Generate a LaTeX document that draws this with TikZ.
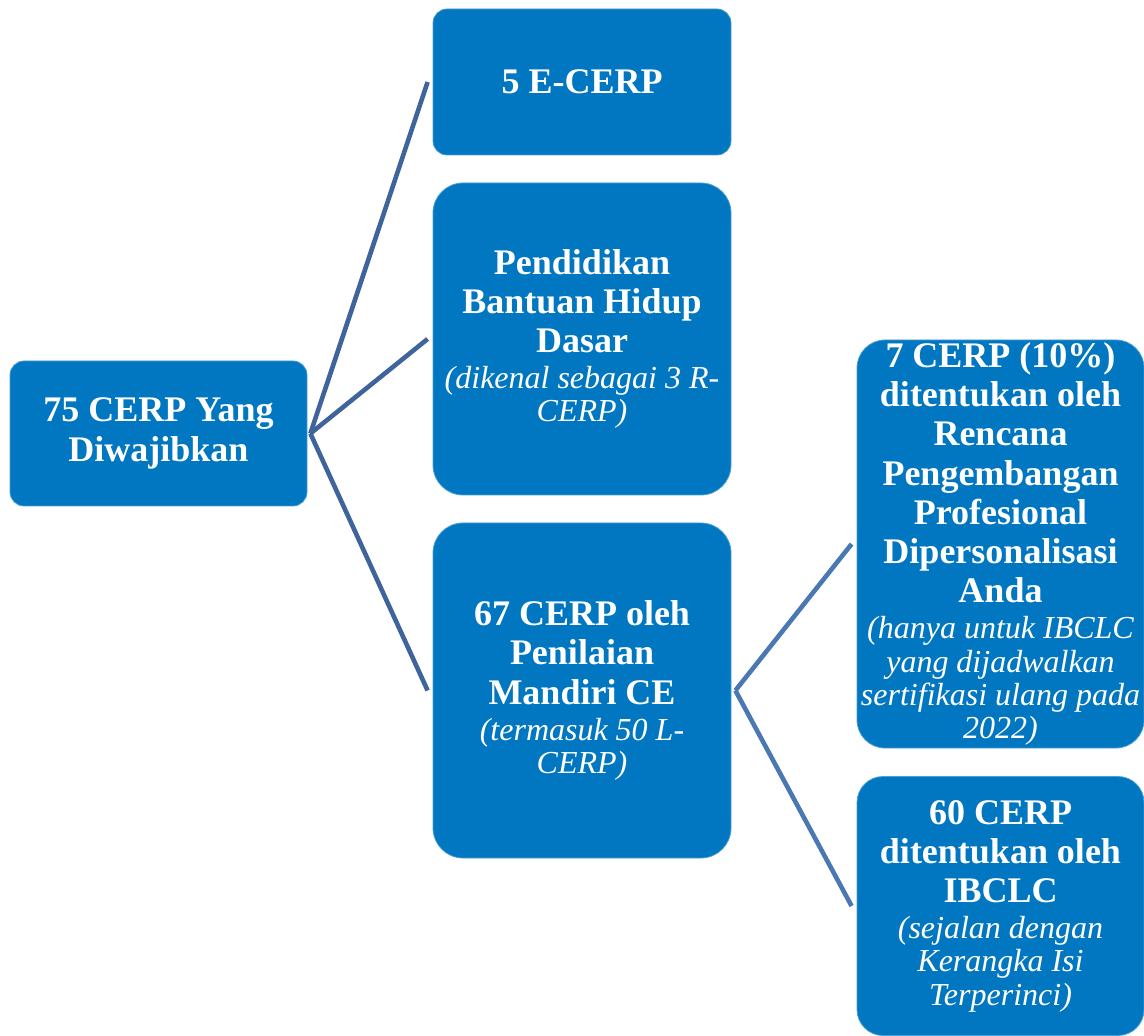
\documentclass[tikz,border=0pt]{standalone}
\usepackage{fontspec}
\setmainfont{Liberation Serif}
\usepackage{tikz}
\usetikzlibrary{positioning}
\definecolor{boxblue}{RGB}{0,119,192}
\definecolor{linkblue}{RGB}{62,100,155}
\definecolor{linkbluelight}{RGB}{74,120,178}
\newcommand{\cerpbf}{\bfseries\fontsize{18}{19.6}\selectfont}
\newcommand{\cerpit}{\mdseries\itshape\fontsize{16}{16.3}\selectfont}
\tikzset{
  box/.style={rectangle, rounded corners=#1, fill=boxblue, draw=boxblue!70!white,
    line width=0.4pt, text=white, align=center, inner sep=0pt, font=\cerpbf},
  box/.default=7pt,
  link/.style={line width=2.3pt, draw=linkblue},
}

\begin{document}
\begin{tikzpicture}[x=0.5pt,y=-0.5pt]
    \useasboundingbox (0,0) rectangle (1144,1036);
    \node[box, minimum width=148.5pt, minimum height=72.5pt] (root) at (158.5,433.5)
      {75 CERP Yang\\Diwajibkan};
    \node[box, minimum width=149pt, minimum height=73pt] (ecerp) at (582,82)
      {5 E-CERP};
    \node[box=15pt, minimum width=149pt, minimum height=156pt] (dasar) at (582,339)
      {Pendidikan\\Bantuan Hidup\\Dasar\\[-1.5pt]
       \cerpit (dikenal sebagai 3 R-\\[-3pt] \cerpit CERP)};
    \node[box=15pt, minimum width=149pt, minimum height=167.5pt] (mandiri) at (582,690.5)
      {67 CERP oleh\\Penilaian\\Mandiri CE\\[-1.5pt]
       \cerpit (termasuk 50 L-\\[-3pt] \cerpit CERP)};
    \node[box=14pt, minimum width=143.5pt, minimum height=204pt] (rencana) at (1000.5,544)
      {7 CERP (10\%)\\ditentukan oleh\\Rencana\\Pengembangan\\Profesional\\Dipersonalisasi\\Anda\\[-1.5pt]
       \cerpit (hanya untuk IBCLC\\[-3pt] \cerpit yang dijadwalkan\\[-3pt]
       \cerpit sertifikasi ulang pada\\[-3pt] \cerpit 2022)};
    \node[box=13pt, minimum width=143.5pt, minimum height=129.5pt] (ibclc) at (1000.5,906)
      {60 CERP\\ditentukan oleh\\IBCLC\\[-1.5pt]
       \cerpit (sejalan dengan\\[-3pt] \cerpit Kerangka Isi\\[-3pt] \cerpit Terperinci)};
    \path[link]
    ([xshift=1.5pt]root.east)
    edge ([xshift=-2.5pt]ecerp.west)
    edge ([xshift=-2.5pt]dasar.west)
    edge ([xshift=-2.5pt]mandiri.west)
    ;
    \path[link, draw=linkbluelight]
    ([xshift=2pt]mandiri.east)
    edge ([xshift=-2.5pt]rencana.west)
    edge ([xshift=-2.5pt]ibclc.west)
    ;
\end{tikzpicture}
\end{document}
